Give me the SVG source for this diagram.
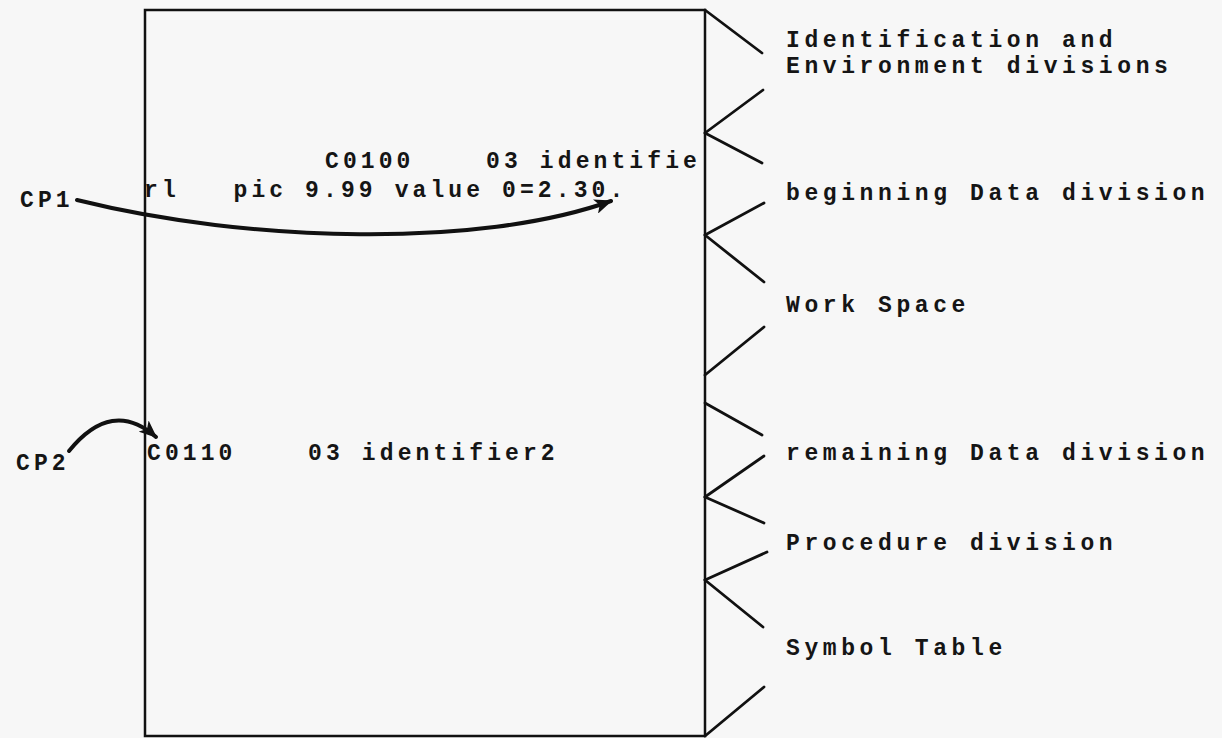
<svg xmlns="http://www.w3.org/2000/svg" width="1222" height="738" viewBox="0 0 1222 738" xml:space="preserve">
<defs>
<style>
.t{font-family:"Liberation Mono","DejaVu Sans Mono",monospace;font-size:23px;font-weight:bold;letter-spacing:4.1px;fill:#151515;white-space:pre}
.r{letter-spacing:4.6px}
.box{fill:none;stroke:#111;stroke-width:2.5}
.tick{stroke:#111;stroke-width:2.8;stroke-linecap:round;fill:none}
.arc{stroke:#111;stroke-width:4;stroke-linecap:round;fill:none}
</style>
<marker id="ah" viewBox="0 0 12 10" refX="11" refY="5" markerWidth="18" markerHeight="15" markerUnits="userSpaceOnUse" orient="auto">
<path d="M0,0 L12,5 L0,10 L3,5 z" fill="#111"/>
</marker>
</defs>
<rect width="1222" height="738" fill="#f7f7f7"/>
<g id="memory">
<path class="box" d="M145,10 H705 V736 H145 Z"/>
<text class="t" x="325" y="168">C0100    03 identifie</text>
<text class="t" x="144" y="197">rl   pic 9.99 value 0=2.30.</text>
<text class="t" x="147" y="460">C0110    03 identifier2</text>
</g>
<g id="brackets">
<line class="tick" x1="705" y1="10" x2="762" y2="53"/>
<line class="tick" x1="705" y1="133" x2="763" y2="90"/>
<line class="tick" x1="705" y1="133" x2="762" y2="163"/>
<line class="tick" x1="705" y1="235" x2="764" y2="203"/>
<line class="tick" x1="705" y1="235" x2="764" y2="282"/>
<line class="tick" x1="705" y1="375" x2="764" y2="327"/>
<line class="tick" x1="705" y1="403" x2="762" y2="435"/>
<line class="tick" x1="705" y1="497" x2="764" y2="456"/>
<line class="tick" x1="705" y1="497" x2="764" y2="523"/>
<line class="tick" x1="705" y1="580" x2="767" y2="552"/>
<line class="tick" x1="705" y1="580" x2="763" y2="627"/>
<line class="tick" x1="705" y1="736" x2="764" y2="687"/>
</g>
<g id="labels">
<text class="t r" x="786" y="47">Identification and</text>
<text class="t r" x="786" y="73">Environment divisions</text>
<text class="t r" x="786" y="200">beginning Data division</text>
<text class="t r" x="786" y="312">Work Space</text>
<text class="t r" x="786" y="460">remaining Data division</text>
<text class="t r" x="786" y="550">Procedure division</text>
<text class="t r" x="786" y="655">Symbol Table</text>
</g>
<g id="cp1"><text class="t" x="20" y="207">CP1</text></g>
<g id="cp2"><text class="t" x="16" y="470">CP2</text></g>
<g id="connectors">
<path class="arc" d="M77,200 C250,243 480,248 611,201" marker-end="url(#ah)"/>
<path class="arc" d="M69,451 Q112,398 156,437" marker-end="url(#ah)"/>
</g>
</svg>
